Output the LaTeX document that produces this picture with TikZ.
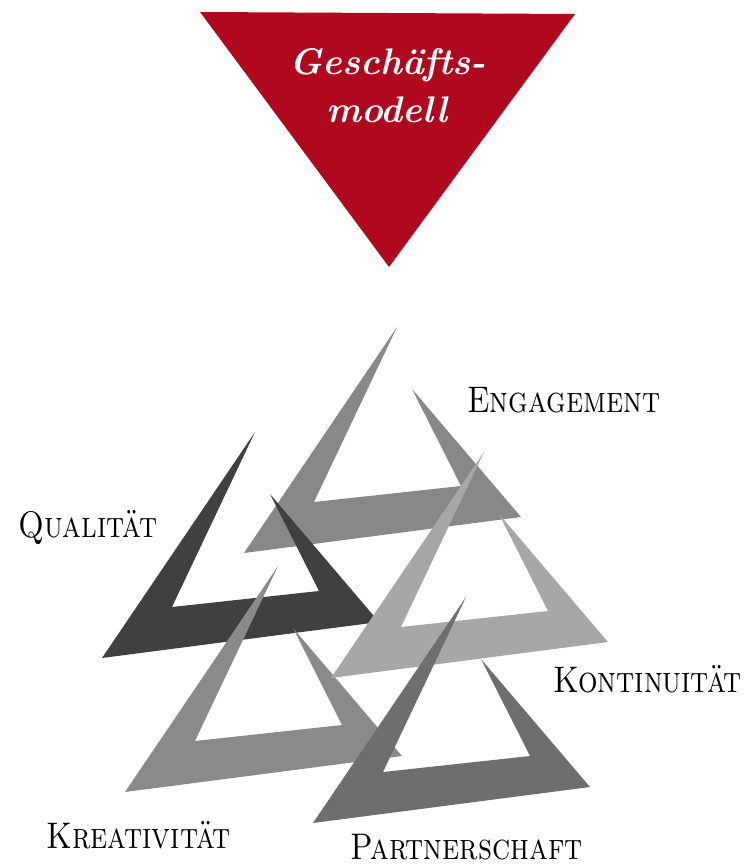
\documentclass[tikz,border=0pt]{standalone}
\usepackage{graphicx}
\definecolor{crimson}{RGB}{176,8,30}
\definecolor{cEng}{RGB}{135,136,138}
\definecolor{cQua}{RGB}{64,64,66}
\definecolor{cKre}{RGB}{137,138,140}
\definecolor{cKon}{RGB}{166,167,169}
\definecolor{cPar}{RGB}{109,110,112}
\newcommand\brktri[3]{%
  \fill[#1, shift={(#2,#3)}] (397,327) -- (244,553) -- (521,517) -- (412,389)
     -- (461,486) -- (314,502) -- cycle;}
\newcommand\lbltext[1]{\scalebox{0.83}[1]{#1}}
\tikzset{
  lbl/.style={anchor=base west, inner sep=0pt, font=\fontsize{37}{42}\selectfont\scshape},
  ttl/.style={anchor=base, inner sep=0pt, text=white, font=\fontsize{37}{44}\selectfont\bfseries\itshape}
}
\begin{document}
\begin{tikzpicture}[x=1pt,y=-1pt]
\useasboundingbox (0,0) rectangle (750,866);
% red triangle
\fill[crimson] (200,12) -- (575,14) -- (389,267) -- cycle;
\node[ttl] (t1) at (388,75) {Geschäfts-};
\node[ttl] (t2) at (387,123) {modell};
% broken triangles
\brktri{cEng}{0}{0}
\brktri{cQua}{-142}{105}
\brktri{cKre}{-119}{239}
\brktri{cKon}{87}{125}
\brktri{cPar}{69}{270}
% labels
\node[lbl] (eng) at (467,412) {\lbltext{Engagement}};
\node[lbl] (qua) at (18,537) {\lbltext{Qualität}};
\node[lbl] (kon) at (553,692) {\lbltext{Kontinuität}};
\node[lbl] (kre) at (46,848) {\lbltext{Kreativität}};
\node[lbl] (par) at (350,859) {\lbltext{Partnerschaft}};
\end{tikzpicture}
\end{document}
